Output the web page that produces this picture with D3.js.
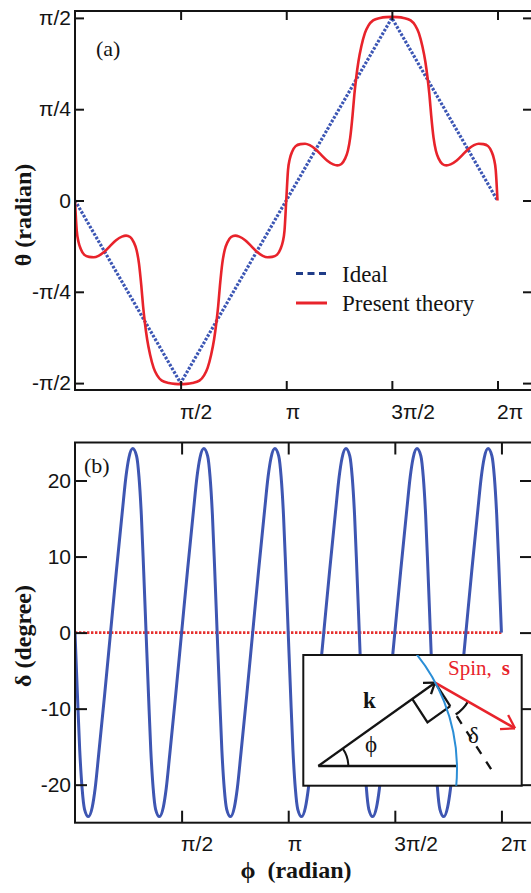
<!DOCTYPE html>
<html><head><meta charset="utf-8">
<script src="https://cdn.jsdelivr.net/npm/d3@7"></script>
<style>body{margin:0;background:#fff} svg{display:block}</style>
</head><body>
<svg id="chart" width="531" height="893"></svg>
<script>
// ---------------- data (phi in degrees) ----------------
const idealPhi   = [0, 90, 180, 270, 360];
const idealTheta = [0, -90, 0, 90, 0];

const theoryPhi = [0,1.5,3,5,8,12,16,20,25,30,35,40,43.5,47,50,52.5,54.5,56.5,58,59.5,61.5,64,67,70,74,80,85,90,
  95,100,106,110,113,116,118.5,120.5,122,123.5,125.5,127.5,130,133,136.5,140,145,150,155,160,164,168,172,175,177,178.5,180,
  181.5,183,185,188,192,196,200,205,210,215,220,223.5,227,230,232.5,234.5,236.5,238,239.5,241.5,244,247,250,254,260,265,270,
  275,280,286,290,293,296,298.5,300.5,302,303.5,305.5,307.5,310,313,316.5,320,325,330,335,340,344,348,352,355,357,358.5,360];
const theoryTheta = [0,-15,-20.5,-24,-26.8,-27.8,-28,-27.3,-25.3,-22.4,-19.6,-17.8,-17.3,-18,-20.5,-24.5,-31,-42,-52,-60,-68.5,-76,-82.5,-86.2,-88.8,-90,-90.4,-90.5,
  -90.4,-90,-88.8,-86.2,-82.5,-76,-68.5,-60,-52,-42,-31,-24.5,-20.5,-18,-17.3,-17.8,-19.6,-22.4,-25.3,-27.3,-28,-27.8,-26.8,-24,-20.5,-15,0,
  15,20.5,24,26.8,27.8,28,27.3,25.3,22.4,19.6,17.8,17.3,18,20.5,24.5,31,42,52,60,68.5,76,82.5,86.2,88.8,90,90.4,90.5,
  90.4,90,88.8,86.2,82.5,76,68.5,60,52,42,31,24.5,20.5,18,17.3,17.8,19.6,22.4,25.3,27.3,28,27.8,26.8,24,20.5,15,0];

const deltaPhi = [
  0,2,4,6,8,11.3,14.5,17,20,25,30,35,40,43,45.5,48.7,52,54,56,58,
  60,62,64,66,68,71.3,74.5,77,80,85,90,95,100,103,105.5,108.7,112,114,116,118,
  120,122,124,126,128,131.3,134.5,137,140,145,150,155,160,163,165.5,168.7,172,174,176,178,
  180,182,184,186,188,191.3,194.5,197,200,205,210,215,220,223,225.5,228.7,232,234,236,238,
  240,242,244,246,248,251.3,254.5,257,260,265,270,275,280,283,285.5,288.7,292,294,296,298,
  300,302,304,306,308,311.3,314.5,317,320,325,330,335,340,343,345.5,348.7,352,354,356,358,
  360];
const deltaDeg = [
  0,-8,-15.5,-20.5,-23.2,-24.2,-23,-20.5,-16,-8.2,0,8.2,16,20.5,23,24.2,23.2,20.5,15.5,8,
  0,-8,-15.5,-20.5,-23.2,-24.2,-23,-20.5,-16,-8.2,0,8.2,16,20.5,23,24.2,23.2,20.5,15.5,8,
  0,-8,-15.5,-20.5,-23.2,-24.2,-23,-20.5,-16,-8.2,0,8.2,16,20.5,23,24.2,23.2,20.5,15.5,8,
  0,-8,-15.5,-20.5,-23.2,-24.2,-23,-20.5,-16,-8.2,0,8.2,16,20.5,23,24.2,23.2,20.5,15.5,8,
  0,-8,-15.5,-20.5,-23.2,-24.2,-23,-20.5,-16,-8.2,0,8.2,16,20.5,23,24.2,23.2,20.5,15.5,8,
  0,-8,-15.5,-20.5,-23.2,-24.2,-23,-20.5,-16,-8.2,0,8.2,16,20.5,23,24.2,23.2,20.5,15.5,8,
  0];

const zeroPhi = [0, 360];
const zeroDeg = [0, 0];

const xTickVals = [90, 180, 270, 360];
const xTickLabels = ["π/2", "π", "3π/2", "2π"];
const thetaTickVals = [90, 45, 0, -45, -90];
const thetaTickLabels = ["π/2", "π/4", "0", "-π/4", "-π/2"];
const deltaTickVals = [20, 10, 0, -10, -20];
const legendLabels = ["Ideal", "Present theory"];

// ---------------- drawing ----------------
const svg = d3.select("#chart");
const INK = "#141414";
const SANS = "'Liberation Sans', Arial, sans-serif";
const SERIF = "'Liberation Serif', 'Times New Roman', serif";

const PA = {left: 75, right: 532, top: 11, bottom: 390};
const PB = {left: 75, right: 532, top: 442.5, bottom: 822.7};

const xA = d3.scaleLinear().domain([0, 389.4]).range([PA.left, PA.right]);
const yA = d3.scaleLinear().domain([-93.4, 93.4]).range([PA.bottom, PA.top]);
const xB = d3.scaleLinear().domain([0, 385.8]).range([PB.left, PB.right]);
const yB = d3.scaleLinear().domain([-25, 25]).range([PB.bottom, PB.top]);

function zip(a, b) { return a.map((v, i) => [v, b[i]]); }

function drawAxes(P, x, y, yVals, yFmt, tick, labPad) {
  const g = svg.append("g");
  const xLab = d => xTickLabels[xTickVals.indexOf(d)];
  g.append("g").attr("class", "ax").attr("transform", `translate(${P.left},0)`)
    .call(d3.axisLeft(y).tickValues(yVals).tickFormat(yFmt).tickSizeInner(-tick).tickSizeOuter(0).tickPadding(4));
  g.append("g").attr("class", "ax").attr("transform", `translate(${P.right},0)`)
    .call(d3.axisRight(y).tickValues(yVals).tickFormat("").tickSizeInner(-tick).tickSizeOuter(0));
  g.append("g").attr("class", "ax").attr("transform", `translate(0,${P.top})`)
    .call(d3.axisTop(x).tickValues(xTickVals).tickFormat("").tickSizeInner(-tick).tickSizeOuter(0));
  const bx = g.append("g").attr("class", "ax").attr("transform", `translate(0,${P.bottom})`)
    .call(d3.axisBottom(x).tickValues(xTickVals).tickFormat(xLab).tickSizeInner(-tick).tickSizeOuter(0).tickPadding(labPad));
  bx.selectAll("text").attr("text-anchor", "start").attr("dx", -1);
  g.selectAll(".ax .domain").remove();
  g.selectAll(".ax line").attr("stroke", INK).attr("stroke-width", 2);
  g.selectAll(".ax text").attr("fill", INK).style("font-family", SANS).style("font-size", "21px");
  g.append("rect").attr("x", P.left).attr("y", P.top)
    .attr("width", P.right - P.left).attr("height", P.bottom - P.top)
    .attr("fill", "none").attr("stroke", INK).attr("stroke-width", 2);
}

// clip paths
const defs = svg.append("defs");
defs.append("clipPath").attr("id", "clipA").append("rect")
  .attr("x", PA.left).attr("y", PA.top).attr("width", PA.right - PA.left).attr("height", PA.bottom - PA.top);
defs.append("clipPath").attr("id", "clipB").append("rect")
  .attr("x", PB.left).attr("y", PB.top).attr("width", PB.right - PB.left).attr("height", PB.bottom - PB.top);

// ---------- panel (a) ----------
const lineA = d3.line().x(d => xA(d[0])).y(d => yA(d[1]));
const gA = svg.append("g").attr("clip-path", "url(#clipA)");
gA.append("path").datum(zip(idealPhi, idealTheta)).attr("d", lineA)
  .attr("fill", "none").attr("stroke", "#3c56b4").attr("stroke-width", 3.2)
  .attr("stroke-dasharray", "2.6,1.6");
gA.append("path").datum(zip(theoryPhi, theoryTheta)).attr("d", lineA.curve(d3.curveMonotoneX))
  .attr("fill", "none").attr("stroke", "#e8232b").attr("stroke-width", 2.6);

drawAxes(PA, xA, yA, thetaTickVals, d => thetaTickLabels[thetaTickVals.indexOf(d)], 9, 14);

svg.append("text").attr("x", 96).attr("y", 56).text("(a)")
  .style("font-family", SERIF).style("font-size", "22px").attr("fill", INK);

// legend
const legY = [273.5, 303];
const legStyles = [
  {stroke: "#1f3c88", dash: "7,4.5"},
  {stroke: "#e8232b", dash: null}
];
legendLabels.forEach((lab, i) => {
  svg.append("line").attr("x1", 296).attr("x2", 327).attr("y1", legY[i]).attr("y2", legY[i])
    .attr("stroke", legStyles[i].stroke).attr("stroke-width", 3)
    .attr("stroke-dasharray", legStyles[i].dash);
  svg.append("text").attr("x", 342).attr("y", legY[i] + 8.3).text(lab)
    .style("font-family", SERIF).style("font-size", "23px").attr("fill", INK);
});

svg.append("text").attr("transform", "translate(31,215) rotate(-90)")
  .attr("text-anchor", "middle").text("θ (radian)")
  .style("font-family", SERIF).style("font-size", "24px").style("font-weight", "bold").attr("fill", INK);

// ---------- panel (b) ----------
const lineB = d3.line().x(d => xB(d[0])).y(d => yB(d[1]));
const gB = svg.append("g").attr("clip-path", "url(#clipB)");
gB.append("path").datum(zip(zeroPhi, zeroDeg)).attr("d", lineB)
  .attr("fill", "none").attr("stroke", "#e5302f").attr("stroke-width", 2.6)
  .attr("stroke-dasharray", "2.4,1.6");
gB.append("path").datum(zip(deltaPhi, deltaDeg)).attr("d", lineB.curve(d3.curveMonotoneX))
  .attr("fill", "none").attr("stroke", "#3e56b2").attr("stroke-width", 3);

drawAxes(PB, xB, yB, deltaTickVals, d => String(d), 12, 13);

svg.append("text").attr("x", 84).attr("y", 473).text("(b)")
  .style("font-family", SERIF).style("font-size", "22px").attr("fill", INK);

svg.append("text").attr("transform", "translate(31,636) rotate(-90)")
  .attr("text-anchor", "middle").text("δ (degree)")
  .style("font-family", SERIF).style("font-size", "24px").style("font-weight", "bold").attr("fill", INK);

svg.append("text").attr("x", 296).attr("y", 878)
  .attr("text-anchor", "middle").text("ϕ\u00a0\u00a0(radian)")
  .style("font-family", SERIF).style("font-size", "24px").style("font-weight", "bold").attr("fill", INK);

// ---------- inset diagram ----------
const box = {x: 303.3, y: 655, w: 218.4, h: 130.7};
const ins = svg.append("g").attr("transform", `translate(${box.x},${box.y})`);
ins.append("rect").attr("width", box.w).attr("height", box.h).attr("fill", "#fff");
defs.append("clipPath").attr("id", "clipInset").append("rect")
  .attr("x", box.x).attr("y", box.y).attr("width", box.w).attr("height", box.h);

const O = [15, 111];
const T = [131.7, 27.7];
const kAng = Math.atan2(T[1] - O[1], T[0] - O[0]);     // direction of k (svg coords)
const kd = [Math.cos(kAng), Math.sin(kAng)];
const pAng = 57 * Math.PI / 180;                         // perpendicular (dashed) direction
const pd = [Math.cos(pAng), Math.sin(pAng)];
const sAng = 29.7 * Math.PI / 180;                       // spin direction
const S = [211.7, 73.3];

const gc = svg.append("g").attr("clip-path", "url(#clipInset)")
  .append("g").attr("transform", `translate(${box.x},${box.y})`);
// blue circle arc
gc.append("circle").attr("cx", -29.3).attr("cy", 114).attr("r", 183)
  .attr("fill", "none").attr("stroke", "#2b8ed6").attr("stroke-width", 2);

const blk = {stroke: INK, "stroke-width": 2.3, fill: "none"};
function seg(g, a, b, st) {
  const l = g.append("line").attr("x1", a[0]).attr("y1", a[1]).attr("x2", b[0]).attr("y2", b[1]);
  Object.entries(st).forEach(([k, v]) => l.attr(k, v));
  return l;
}
// base line and k vector
seg(ins, O, [153.4, 111], blk);
seg(ins, O, T, blk);
// open arrow heads
function head(g, tip, ang, len, half, color) {
  [ang + Math.PI - half, ang + Math.PI + half].forEach(a => {
    seg(g, tip, [tip[0] + len * Math.cos(a), tip[1] + len * Math.sin(a)],
      {stroke: color, "stroke-width": 2.3, fill: "none"});
  });
}
head(ins, T, kAng, 12, 35 * Math.PI / 180, INK);
// phi angle arc
const arcPhi = d3.arc().innerRadius(30).outerRadius(30)
  .startAngle(Math.PI / 2 + kAng).endAngle(Math.PI / 2);
ins.append("path").attr("transform", `translate(${O[0]},${O[1]})`).attr("d", arcPhi())
  .attr("fill", "none").attr("stroke", INK).attr("stroke-width", 2);
// right angle marker
const m = 28;
const P1 = [T[0] - m * kd[0], T[1] - m * kd[1]];
const P3 = [T[0] + m * pd[0], T[1] + m * pd[1]];
const P2 = [P1[0] + m * pd[0], P1[1] + m * pd[1]];
ins.append("path").attr("d", d3.line()([P1, P2, P3])).attr("fill", "none")
  .attr("stroke", INK).attr("stroke-width", 2.3);
// perpendicular line: solid then dashed
seg(ins, T, P3, blk);
seg(ins, [T[0] + 40 * pd[0], T[1] + 40 * pd[1]], [T[0] + 112 * pd[0], T[1] + 112 * pd[1]], blk)
  .attr("stroke-dasharray", "9,9");
// delta arc
const arcD = d3.arc().innerRadius(38).outerRadius(38)
  .startAngle(Math.PI / 2 + sAng).endAngle(Math.PI / 2 + pAng);
ins.append("path").attr("transform", `translate(${T[0]},${T[1]})`).attr("d", arcD())
  .attr("fill", "none").attr("stroke", INK).attr("stroke-width", 2.3);
// spin arrow
seg(ins, T, S, {stroke: "#e8232b", "stroke-width": 2.5, fill: "none"});
head(ins, S, sAng, 15, 33 * Math.PI / 180, "#e8232b");
// inset labels
ins.append("text").attr("x", 59.7).attr("y", 53).text("k")
  .style("font-family", SERIF).style("font-size", "23px").style("font-weight", "bold").attr("fill", INK);
ins.append("text").attr("x", 67.7).attr("y", 97).attr("text-anchor", "middle").text("ϕ")
  .style("font-family", SERIF).style("font-size", "23px").attr("fill", INK);
ins.append("text").attr("x", 164.7).attr("y", 88).text("δ")
  .style("font-family", SERIF).style("font-size", "23px").attr("fill", INK);
const sp = ins.append("text").attr("y", 20).style("font-family", SERIF).style("font-size", "21px").attr("fill", "#e8232b");
sp.append("tspan").attr("x", 144.7).text("Spin,");
sp.append("tspan").attr("x", 198.5).style("font-weight", "bold").text("s");
// box frame
ins.append("rect").attr("width", box.w).attr("height", box.h)
  .attr("fill", "none").attr("stroke", INK).attr("stroke-width", 2);
</script>
</body></html>
